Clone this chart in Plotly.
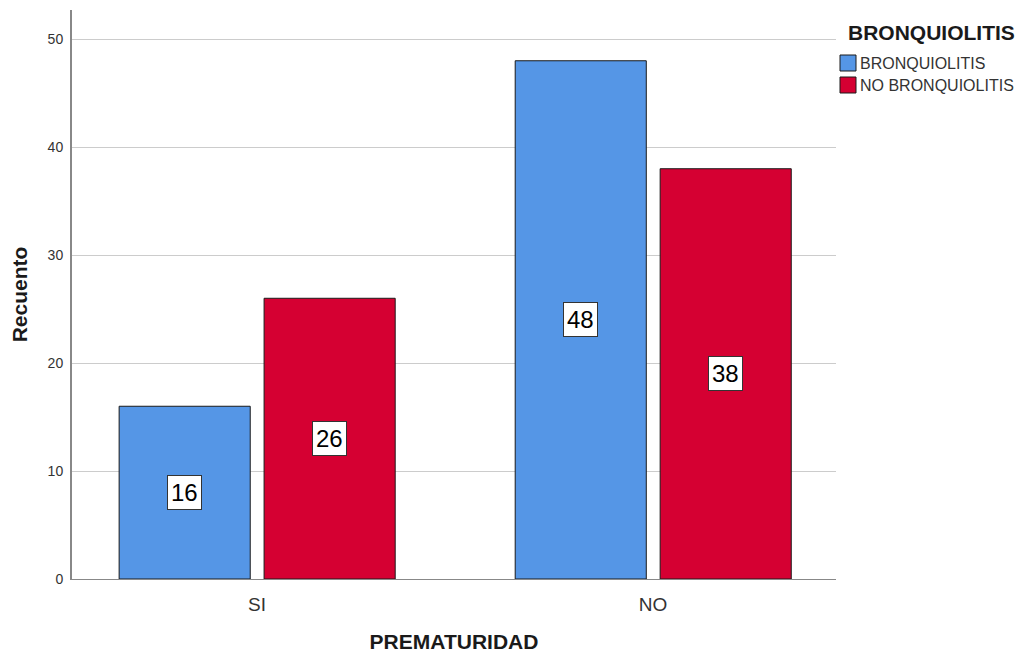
import plotly.graph_objects as go

categories = ["SI", "NO"]
bronquiolitis = [16, 48]
no_bronquiolitis = [26, 38]
series_names = ["BRONQUIOLITIS", "NO BRONQUIOLITIS"]
legend_title = "BRONQUIOLITIS"
y_ticks = [0, 10, 20, 30, 40, 50]

BLUE = "#5596E6"
RED = "#D50032"
COLORS = [BLUE, RED]
FONT = "Liberation Sans, Arial, sans-serif"
OUTLINE = "#1a1a1a"

BAR_W = 0.331
OFFSETS = [-0.348, 0.018]

fig = go.Figure()
for name, vals, color, off in zip(series_names, [bronquiolitis, no_bronquiolitis], COLORS, OFFSETS):
    fig.add_trace(go.Bar(
        x=categories, y=vals, name=name,
        marker=dict(color=color, line=dict(color=OUTLINE, width=1)),
        width=BAR_W, offset=off, showlegend=False,
    ))
    # value boxes centred in each bar
    for i, v in enumerate(vals):
        fig.add_annotation(
            x=i + off + BAR_W / 2, y=v / 2, xref="x", yref="y", text=str(v),
            showarrow=False, font=dict(family=FONT, size=24, color="black"),
            bgcolor="white", bordercolor="#333333", borderwidth=1, borderpad=3,
        )

# legend drawn in paper space to the right of the plot
W, H = 1024, 653
L, R, T, B = 72, 188, 10, 74
pw, ph = W - L - R, H - T - B


def px_x(x):
    return (x - L) / pw


def px_y(y):
    return (H - B - y) / ph


fig.add_annotation(
    x=px_x(846), y=px_y(32), xref="paper", yref="paper", xanchor="left", yanchor="middle",
    text=f"<b>{legend_title}</b>", showarrow=False,
    font=dict(family=FONT, size=21, color="#1a1a1a"),
)
for k, (name, color) in enumerate(zip(series_names, COLORS)):
    top = 55 + 22 * k
    fig.add_shape(
        type="rect", xref="paper", yref="paper",
        x0=px_x(840), x1=px_x(856), y0=px_y(top), y1=px_y(top + 16),
        fillcolor=color, line=dict(color=OUTLINE, width=1),
    )
    fig.add_annotation(
        x=px_x(858), y=px_y(top + 8), xref="paper", yref="paper",
        xanchor="left", yanchor="middle", text=name, showarrow=False,
        font=dict(family=FONT, size=16, color="#333333"),
    )

fig.update_layout(
    width=W, height=H,
    margin=dict(l=L, r=R, t=T, b=B),
    plot_bgcolor="white", paper_bgcolor="white",
    font=dict(family=FONT, color="#333333"),
    barmode="group",
    showlegend=False,
    xaxis=dict(
        type="category", range=[-0.467, 1.462], automargin=False,
        showline=True, linecolor="#888888", linewidth=1,
        showgrid=False, ticks="", ticklabelstandoff=8,
        tickfont=dict(size=19, color="#333333"),
        title=dict(text="<b>PREMATURIDAD</b>", font=dict(size=21, color="#1a1a1a"), standoff=20),
    ),
    yaxis=dict(
        range=[0, 52.7], tickvals=y_ticks, automargin=False,
        showline=True, linecolor="#888888", linewidth=2,
        showgrid=True, gridcolor="#cccccc", gridwidth=1,
        zeroline=False, ticks="", ticklen=0, ticklabelstandoff=4,
        tickfont=dict(size=14, color="#333333"),
        title=dict(text="<b>Recuento</b>", font=dict(size=21, color="#1a1a1a"), standoff=14),
    ),
)

fig.write_html("out.html")
